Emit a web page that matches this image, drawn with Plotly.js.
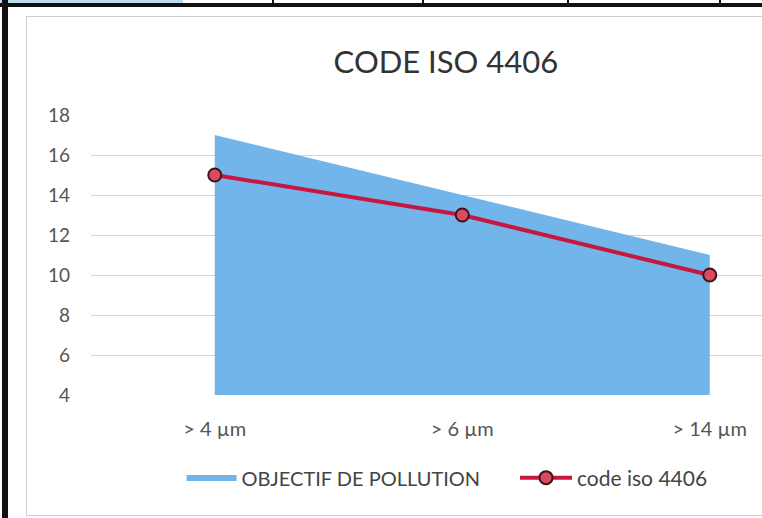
<!DOCTYPE html>
<html><head><meta charset="utf-8">
<script src="https://cdn.plot.ly/plotly-3.0.1.min.js"></script>
<style>
html,body{margin:0;padding:0;background:#fff;overflow:hidden;}
#wrap{position:relative;width:762px;height:518px;overflow:hidden;}
#chart{position:absolute;left:0;top:0;width:762px;height:518px;}
.deco{position:absolute;z-index:5;}
</style></head>
<body>
<div id="wrap">
<div id="chart"></div>
<div class="deco" style="left:26px;top:16px;width:760px;height:498px;border-left:1px solid #cfcfcf;border-top:1px solid #cfcfcf;border-bottom:1px solid #cfcfcf;background:transparent;"></div>
<div class="deco" style="left:0;top:0;width:183px;height:3px;background:#bcdcf0;"></div>
<div class="deco" style="left:0;top:3px;width:762px;height:4px;background:#111;"></div>
<div class="deco" style="left:272px;top:0;width:2px;height:7px;background:#111;"></div>
<div class="deco" style="left:422px;top:0;width:2px;height:7px;background:#111;"></div>
<div class="deco" style="left:567px;top:0;width:2px;height:7px;background:#111;"></div>
<div class="deco" style="left:719px;top:0;width:2px;height:7px;background:#111;"></div>
<div class="deco" style="left:2px;top:0;width:6px;height:518px;background:#111;"></div>
</div>
<script>
const categories = ['> 4 µm', '> 6 µm', '> 14 µm'];
const objectifPollution = [17, 14, 11];
const codeIso4406 = [15, 13, 10];
const yTicks = [4, 6, 8, 10, 12, 14, 16, 18];

const xIdx = categories.map((c, i) => i);

const traces = [
  {
    x: xIdx, y: objectifPollution, name: 'OBJECTIF DE POLLUTION',
    type: 'scatter', mode: 'none', fill: 'tozeroy', fillcolor: '#72b5ea',
    hoverinfo: 'skip', legend: 'legend'
  },
  {
    x: xIdx, y: codeIso4406, name: 'code iso 4406',
    type: 'scatter', mode: 'lines+markers',
    line: {color: '#c8173f', width: 4},
    marker: {symbol: 'circle', size: 13, color: '#dc4a62', line: {color: '#3a1418', width: 2}},
    hoverinfo: 'skip', legend: 'legend2'
  }
];

const legY = (395-478)/280;

const layout = {
  width: 762, height: 518,
  margin: {l: 91, r: 0, t: 115, b: 123, pad: 0},
  paper_bgcolor: '#ffffff', plot_bgcolor: '#ffffff',
  font: {family: 'Lato, "Open Sans", sans-serif', color: '#555555', size: 19},
  showlegend: true,
  title: {
    text: 'CODE ISO 4406',
    font: {family: 'Lato, "Open Sans", sans-serif', size: 31, color: '#333333'},
    xref: 'paper', x: 0.529, xanchor: 'center',
    yref: 'container', y: 1 - 62/518, yanchor: 'middle'
  },
  xaxis: {
    range: [-0.5, 2.211],
    tickmode: 'array', tickvals: xIdx, ticktext: categories,
    showgrid: false, zeroline: false, showline: false, ticks: '',
    ticklabelstandoff: 20,
    tickfont: {size: 20, color: '#555555'},
    fixedrange: true
  },
  yaxis: {
    range: [4, 18],
    tickmode: 'array', tickvals: yTicks,
    showgrid: true, gridcolor: '#d6d6d6', gridwidth: 1,
    zeroline: false, showline: false, ticks: '',
    ticklabelstandoff: 20,
    tickfont: {size: 19, color: '#555555'},
    fixedrange: true
  },
  legend: {
    orientation: 'h', x: 0.135, xanchor: 'left', y: legY, yanchor: 'middle',
    font: {size: 20, color: '#444444'}, itemwidth: 50,
    bgcolor: 'rgba(0,0,0,0)'
  },
  legend2: {
    orientation: 'h', x: (515-91)/671, xanchor: 'left', y: legY, yanchor: 'middle',
    font: {size: 21, color: '#444444'}, itemwidth: 52,
    bgcolor: 'rgba(0,0,0,0)'
  }
};

Plotly.newPlot('chart', traces, layout, {staticPlot: true, displayModeBar: false});
</script>
</body></html>
